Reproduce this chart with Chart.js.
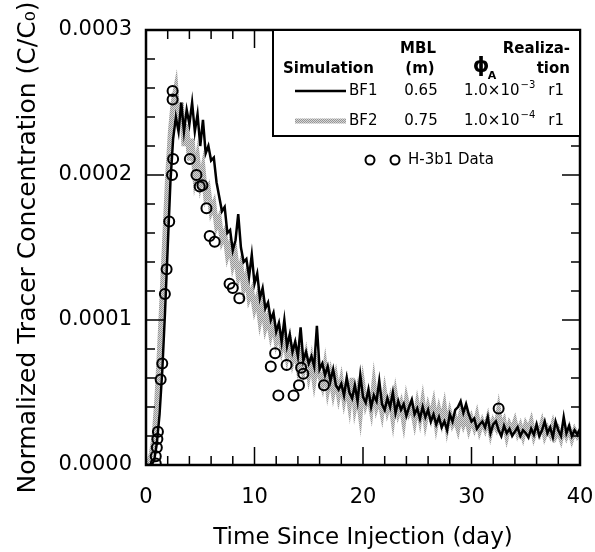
<!DOCTYPE html>
<html>
<head>
<meta charset="utf-8">
<script src="https://cdn.jsdelivr.net/npm/chart.js@4.4.1/dist/chart.umd.min.js"></script>
<style>
  html, body { margin: 0; padding: 0; background: #fff; }
  #wrap { width: 595px; height: 552px; }
</style>
</head>
<body>
<div id="wrap"><canvas id="chart" width="595" height="552"></canvas></div>
<script>
// concentrations are in units of 1e-4 (C/C0)
// simulation output sampled every 0.25 day from 0 to 40
const simDays = Array.from({ length: 161 }, (_, i) => i * 0.25);

const bf1 = [
  0, 0, 0, 0.03, 0.15, 0.35, 0.65, 1.05,
  1.5, 1.95, 2.25, 2.4, 2.3, 2.5, 2.3, 2.45,
  2.35, 2.5, 2.3, 2.42, 2.2, 2.38, 2.15, 2.2,
  2.1, 2.12, 1.95, 1.85, 1.75, 1.78, 1.6, 1.62,
  1.48, 1.55, 1.73, 1.5, 1.4, 1.42, 1.3, 1.45,
  1.25, 1.32, 1.15, 1.22, 1.08, 1.12, 1.0, 1.05,
  0.92, 0.98, 0.85, 1.0, 0.82, 0.9, 0.78, 0.85,
  0.75, 0.95, 0.72, 0.78, 0.7, 0.75, 0.68, 0.96,
  0.66, 0.7, 0.62, 0.68, 0.58, 0.66, 0.55, 0.52,
  0.56, 0.48, 0.6, 0.5, 0.46, 0.55, 0.44, 0.62,
  0.47, 0.43, 0.52, 0.4, 0.48, 0.44, 0.58, 0.42,
  0.38, 0.46, 0.4, 0.5, 0.36, 0.44, 0.38, 0.42,
  0.34, 0.4, 0.45, 0.35, 0.39, 0.32, 0.4, 0.33,
  0.38, 0.3, 0.35, 0.28, 0.33, 0.26, 0.3, 0.24,
  0.35, 0.3, 0.38, 0.4, 0.44, 0.36, 0.42, 0.35,
  0.3, 0.32, 0.25, 0.28, 0.3, 0.26, 0.33, 0.22,
  0.28, 0.3, 0.24, 0.2, 0.27, 0.22, 0.25, 0.2,
  0.23, 0.26, 0.2, 0.24, 0.22, 0.19, 0.25, 0.21,
  0.28, 0.2, 0.24, 0.3, 0.22, 0.26, 0.19, 0.3,
  0.24, 0.2, 0.33, 0.22, 0.27, 0.2, 0.24, 0.21,
  0.25
];

const bf2 = [
  0, 0.02, 0.08, 0.2, 0.45, 0.8, 1.2, 1.6,
  2.0, 2.3, 2.5, 2.6, 2.35, 2.5, 2.2, 2.35,
  2.1, 2.25, 2.0, 2.12, 1.95, 2.05, 1.85, 1.9,
  1.75, 1.8, 1.65, 1.7, 1.55, 1.6, 1.45, 1.52,
  1.38, 1.45, 1.3, 1.38, 1.22, 1.3, 1.15, 1.2,
  1.08, 1.15, 1.0, 1.1, 0.95, 1.02, 0.9, 0.98,
  0.85, 0.92, 0.8, 0.88, 0.75, 0.85, 0.72, 0.8,
  0.68, 0.78, 0.65, 0.75, 0.62, 0.72, 0.58, 0.7,
  0.62, 0.55, 0.68, 0.52, 0.62, 0.5, 0.6, 0.48,
  0.58, 0.45, 0.55, 0.42, 0.6, 0.4, 0.5, 0.35,
  0.55, 0.42, 0.48, 0.38, 0.56, 0.4, 0.46, 0.36,
  0.5, 0.38, 0.45, 0.32, 0.48, 0.36, 0.42, 0.3,
  0.45, 0.36, 0.4, 0.3, 0.42, 0.32, 0.44, 0.3,
  0.4, 0.33, 0.42, 0.28, 0.38, 0.3, 0.4, 0.26,
  0.36, 0.28, 0.32, 0.25, 0.35, 0.28, 0.34, 0.25,
  0.32, 0.26, 0.34, 0.24, 0.3, 0.25, 0.32, 0.22,
  0.3, 0.26, 0.38, 0.25, 0.3, 0.2, 0.28, 0.24,
  0.3, 0.22, 0.27, 0.2, 0.28, 0.24, 0.3, 0.2,
  0.26, 0.22, 0.29, 0.2, 0.25, 0.21, 0.28, 0.2,
  0.24, 0.18, 0.26, 0.2, 0.25, 0.18, 0.24, 0.2,
  0.23
];

// H-3b1 field data
const obsDays = [0.9, 0.9, 1.0, 1.05, 1.1, 1.35, 1.5, 1.74, 1.9, 2.14, 2.4, 2.5, 2.45, 2.45,
  4.04, 4.65, 4.95, 5.2, 5.57, 5.87, 6.33, 7.7, 8.0, 8.6,
  11.5, 11.9, 12.2, 12.96, 13.6, 14.1, 14.3, 14.5, 16.4, 32.5];
const obsValues = [0.01, 0.06, 0.12, 0.18, 0.23, 0.59, 0.7, 1.18, 1.35, 1.68, 2.0, 2.11, 2.52, 2.58,
  2.11, 2.0, 1.92, 1.93, 1.77, 1.58, 1.54, 1.25, 1.22, 1.15,
  0.68, 0.77, 0.48, 0.69, 0.48, 0.55, 0.67, 0.63, 0.55, 0.39];

// legend table
const simNames = ['BF1', 'BF2'];
const mblValues = ['0.65', '0.75'];
const phiExponents = ['\u22123', '\u22124'];
const realizations = ['r1', 'r1'];

const FONT = '"DejaVu Sans", sans-serif';
const ctx = document.getElementById('chart').getContext('2d');

// stippled gray like the halftone in the print
function grayTexture() {
  const c = document.createElement('canvas');
  c.width = 2; c.height = 2;
  const g = c.getContext('2d');
  g.fillStyle = '#d6d6d6'; g.fillRect(0, 0, 2, 2);
  g.fillStyle = '#959595'; g.fillRect(0, 0, 1, 1); g.fillRect(1, 1, 1, 1);
  return ctx.createPattern(c, 'repeat');
}
const gray = grayTexture();

const frame = {
  id: 'frame',
  afterDatasetsDraw(chart) {
    const { ctx, chartArea: a, scales: { x, y } } = chart;
    ctx.save();
    ctx.strokeStyle = '#000';
    ctx.lineWidth = 1.5;
    ctx.beginPath();
    for (let d = 0; d <= 40; d += 2) {
      const px = x.getPixelForValue(d);
      const len = d % 10 === 0 ? 18 : 9;
      ctx.moveTo(px, a.bottom); ctx.lineTo(px, a.bottom - len);
      ctx.moveTo(px, a.top); ctx.lineTo(px, a.top + len);
    }
    for (let k = 0; k <= 15; k++) {
      const py = y.getPixelForValue(k * 0.2);
      const len = k % 5 === 0 ? 18 : 9;
      ctx.moveTo(a.left, py); ctx.lineTo(a.left + len, py);
      ctx.moveTo(a.right, py); ctx.lineTo(a.right - len, py);
    }
    ctx.stroke();
    ctx.lineWidth = 2.5;
    ctx.strokeRect(a.left, a.top, a.right - a.left, a.bottom - a.top);
    ctx.restore();
  }
};

const tableLegend = {
  id: 'tableLegend',
  afterDraw(chart) {
    const { ctx, chartArea: a } = chart;
    const L = 273, B = 136;
    ctx.save();
    ctx.fillStyle = '#fff';
    ctx.fillRect(L, a.top, a.right - L, B - a.top);
    ctx.strokeStyle = '#000';
    ctx.lineWidth = 2;
    ctx.strokeRect(L, a.top, a.right - L, B - a.top);

    ctx.fillStyle = '#000';
    ctx.textBaseline = 'middle';
    ctx.font = 'bold 15px ' + FONT;
    ctx.textAlign = 'center';
    ctx.fillText('MBL', 418, 49);
    ctx.fillText('(m)', 420, 69);
    ctx.textAlign = 'right';
    ctx.fillText('Realiza-', 570, 49);
    ctx.fillText('tion', 570, 69);
    ctx.textAlign = 'left';
    ctx.fillText('Simulation', 283, 69);
    ctx.font = 'bold 21px ' + FONT;
    ctx.textAlign = 'center';
    ctx.fillText('\u03D5', 481, 67);
    ctx.font = 'bold 11px ' + FONT;
    ctx.fillText('A', 492, 76);

    const rows = [91, 121];
    simNames.forEach((name, i) => {
      const ry = rows[i];
      ctx.beginPath();
      ctx.moveTo(295, ry); ctx.lineTo(346, ry);
      ctx.strokeStyle = i === 0 ? '#000' : gray;
      ctx.lineWidth = i === 0 ? 2.5 : 5;
      ctx.stroke();
      ctx.font = '15px ' + FONT;
      ctx.textAlign = 'left';
      ctx.fillText(name, 349, ry);
      ctx.textAlign = 'center';
      ctx.fillText(mblValues[i], 421, ry);
      ctx.textAlign = 'left';
      ctx.fillText('1.0\u00D710', 464, ry);
      const w = ctx.measureText('1.0\u00D710').width;
      ctx.font = '10px ' + FONT;
      ctx.fillText(phiExponents[i], 464 + w + 1, ry - 6);
      ctx.font = '15px ' + FONT;
      ctx.textAlign = 'right';
      ctx.fillText(realizations[i], 564, ry);
    });

    // data entry
    ctx.strokeStyle = '#000';
    ctx.lineWidth = 2;
    [370, 395].forEach(cx => {
      ctx.beginPath();
      ctx.arc(cx, 160, 4.5, 0, Math.PI * 2);
      ctx.stroke();
    });
    ctx.font = '15px ' + FONT;
    ctx.textAlign = 'left';
    ctx.fillText('H-3b1 Data', 408, 160);
    ctx.restore();
  }
};

new Chart(ctx, {
  type: 'line',
  data: {
    datasets: [
      {
        label: 'H-3b1 Data',
        data: obsDays.map((d, i) => ({ x: d, y: obsValues[i] })),
        showLine: false,
        pointRadius: 5,
        pointBorderWidth: 2,
        pointBorderColor: '#000',
        pointBackgroundColor: 'rgba(0,0,0,0)',
        borderColor: '#000'
      },
      {
        label: 'BF1',
        data: simDays.map((d, i) => ({ x: d, y: bf1[i] })),
        borderColor: '#000',
        borderWidth: 2.5,
        pointRadius: 0,
        tension: 0
      },
      {
        label: 'BF2',
        data: simDays.map((d, i) => ({ x: d, y: bf2[i] })),
        borderColor: gray,
        borderWidth: 5,
        pointRadius: 0,
        tension: 0
      }
    ]
  },
  options: {
    responsive: false,
    animation: false,
    devicePixelRatio: 1,
    layout: { padding: { top: 30, right: 15, left: 0, bottom: 0 } },
    plugins: { legend: { display: false }, tooltip: { enabled: false } },
    scales: {
      x: {
        type: 'linear',
        min: 0,
        max: 40,
        grid: { display: false, drawTicks: false },
        border: { display: false },
        ticks: { stepSize: 10, padding: 20, color: '#000', font: { family: FONT, size: 21 } },
        title: {
          display: true,
          text: 'Time Since Injection (day)',
          color: '#000',
          font: { family: FONT, size: 23 },
          padding: { top: 0, bottom: 0 }
        },
        afterFit(s) { s.height = 87; s.paddingLeft = 0; s.paddingRight = 0; }
      },
      y: {
        min: 0,
        max: 3,
        grid: { display: false, drawTicks: false },
        border: { display: false },
        ticks: {
          stepSize: 1,
          padding: 14,
          color: '#000',
          font: { family: FONT, size: 21 },
          callback: v => (v * 0.0001).toFixed(4)
        },
        title: {
          display: true,
          text: 'Normalized Tracer Concentration (C/C\u2080)',
          color: '#000',
          font: { family: FONT, size: 25 },
          padding: { top: 13, bottom: 0 }
        },
        afterFit(s) { s.width = 146; s.paddingTop = 0; s.paddingBottom = 0; }
      }
    }
  },
  plugins: [frame, tableLegend]
});
</script>
</body>
</html>
